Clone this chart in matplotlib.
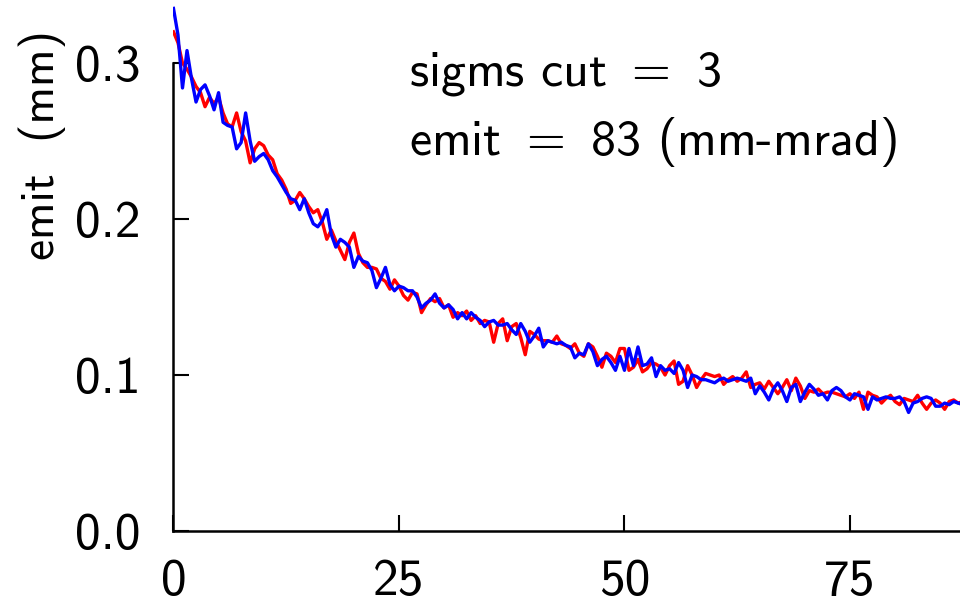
import numpy as np
import matplotlib
matplotlib.use("Agg")
import matplotlib.pyplot as plt

plt.rcParams['font.family'] = ['cmss10', 'DejaVu Sans']
plt.rcParams['mathtext.fontset'] = 'cm'
plt.rcParams['axes.unicode_minus'] = False

step = 0.5
red = [
    0.320, 0.313, 0.300, 0.296, 0.291, 0.285, 0.281, 0.272, 0.278, 0.274,
    0.278, 0.268, 0.261, 0.259, 0.268, 0.256, 0.250, 0.236, 0.245, 0.249,
    0.247, 0.241, 0.238, 0.229, 0.225, 0.219, 0.210, 0.212, 0.217, 0.213,
    0.208, 0.204, 0.206, 0.198, 0.187, 0.193, 0.186, 0.180, 0.174, 0.185,
    0.191, 0.178, 0.172, 0.169, 0.169, 0.168, 0.162, 0.160, 0.155, 0.161,
    0.157, 0.151, 0.148, 0.153, 0.152, 0.140, 0.145, 0.149, 0.147, 0.149,
    0.143, 0.145, 0.137, 0.140, 0.138, 0.141, 0.135, 0.138, 0.133, 0.135,
    0.134, 0.121, 0.133, 0.136, 0.122, 0.131, 0.133, 0.124, 0.113, 0.128,
    0.126, 0.123, 0.122, 0.122, 0.121, 0.125, 0.120, 0.119, 0.117, 0.120,
    0.114, 0.112, 0.120, 0.118, 0.112, 0.105, 0.114, 0.112, 0.108, 0.117,
    0.117, 0.103, 0.105, 0.110, 0.102, 0.104, 0.108, 0.107, 0.105, 0.100,
    0.106, 0.109, 0.094, 0.096, 0.106, 0.100, 0.092, 0.097, 0.101, 0.100,
    0.099, 0.100, 0.094, 0.097, 0.099, 0.096, 0.098, 0.102, 0.092, 0.094,
    0.095, 0.091, 0.096, 0.092, 0.088, 0.092, 0.097, 0.090, 0.098, 0.093,
    0.085, 0.090, 0.089, 0.091, 0.088, 0.089, 0.089, 0.088, 0.087, 0.086,
    0.088, 0.085, 0.089, 0.078, 0.089, 0.087, 0.086, 0.082, 0.085, 0.087,
    0.083, 0.081, 0.085, 0.084, 0.083, 0.087, 0.082, 0.078, 0.082, 0.084,
    0.082, 0.078, 0.083, 0.084, 0.082, 0.083,
]
blue = [
    0.335, 0.318, 0.284, 0.308, 0.290, 0.275, 0.283, 0.286, 0.279, 0.270,
    0.281, 0.262, 0.260, 0.259, 0.245, 0.249, 0.268, 0.250, 0.237, 0.240,
    0.242, 0.238, 0.231, 0.227, 0.222, 0.217, 0.213, 0.212, 0.206, 0.213,
    0.204, 0.197, 0.195, 0.199, 0.206, 0.190, 0.182, 0.187, 0.185, 0.182,
    0.169, 0.176, 0.173, 0.172, 0.167, 0.156, 0.162, 0.169, 0.158, 0.154,
    0.157, 0.156, 0.154, 0.154, 0.150, 0.143, 0.146, 0.148, 0.152, 0.146,
    0.143, 0.145, 0.142, 0.136, 0.140, 0.136, 0.140, 0.137, 0.135, 0.131,
    0.134, 0.135, 0.132, 0.132, 0.133, 0.129, 0.126, 0.133, 0.128, 0.121,
    0.125, 0.130, 0.118, 0.122, 0.121, 0.120, 0.121, 0.119, 0.118, 0.111,
    0.114, 0.113, 0.120, 0.115, 0.106, 0.110, 0.112, 0.108, 0.103, 0.112,
    0.103, 0.117, 0.106, 0.118, 0.106, 0.107, 0.111, 0.099, 0.106, 0.103,
    0.104, 0.101, 0.108, 0.103, 0.092, 0.100, 0.099, 0.097, 0.097, 0.096,
    0.095, 0.097, 0.098, 0.096, 0.097, 0.098, 0.097, 0.096, 0.098, 0.088,
    0.093, 0.089, 0.084, 0.091, 0.095, 0.090, 0.083, 0.092, 0.094, 0.083,
    0.089, 0.094, 0.091, 0.087, 0.088, 0.084, 0.090, 0.092, 0.090, 0.086,
    0.084, 0.088, 0.087, 0.086, 0.078, 0.086, 0.084, 0.085, 0.086, 0.085,
    0.085, 0.086, 0.083, 0.076, 0.082, 0.083, 0.085, 0.086, 0.085, 0.080,
    0.080, 0.082, 0.081, 0.083, 0.082, 0.081,
]
xticks = [0, 25, 50, 75]
yticks = [0.0, 0.1, 0.2, 0.3]
ytick_labels = ["0.0", "0.1", "0.2", "0.3"]
ylabel = "emit  (mm)"
annot_lines = ["sigms cut $=$ 3", "emit $=$ 83 (mm-mrad)"]

x = np.arange(len(red)) * step

fig = plt.figure(figsize=(9.6, 6.03), dpi=100)
ax = fig.add_axes([0.1807, 0.1194, 0.8193, 0.8806])
ax.plot(x, red, color='#ff0000', lw=2.4)
ax.plot(x, blue, color='#0000ff', lw=2.4)

ax.set_xlim(0, 87.2)
ax.set_ylim(0, 0.3404)
ax.set_xticks(xticks)
ax.set_xticklabels([str(t) for t in xticks])
ax.set_yticks(yticks)
ax.set_yticklabels(ytick_labels)

for s in ['top', 'right']:
    ax.spines[s].set_visible(False)
for s in ['left', 'bottom']:
    ax.spines[s].set_linewidth(1.8)
ax.spines['left'].set_bounds(0, 0.3)

ax.tick_params(direction='in', length=11.5, width=1.5, labelsize=37)
ax.tick_params(axis='x', pad=20)
ax.tick_params(axis='y', pad=24)

ax.set_ylabel(ylabel, fontsize=34)
ax.yaxis.set_label_coords(-0.137, 0.727)

ax.text(0.299, 0.860, annot_lines[0], transform=ax.transAxes, fontsize=36,
        va='center', ha='left')
ax.text(0.299, 0.733, annot_lines[1], transform=ax.transAxes, fontsize=36,
        va='center', ha='left')

fig.savefig("out.png", dpi=100)
